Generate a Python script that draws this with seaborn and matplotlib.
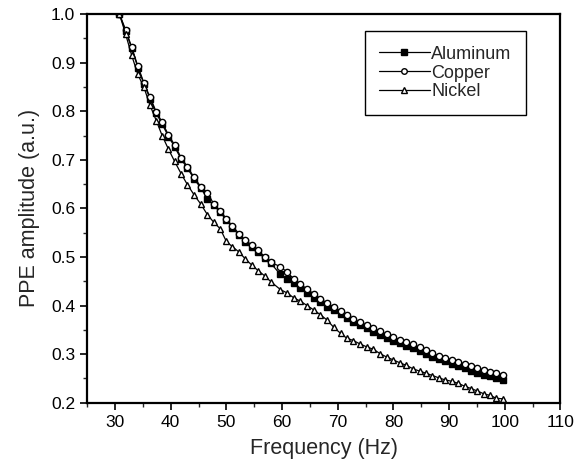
import matplotlib
matplotlib.use("Agg")
import matplotlib.pyplot as plt
from matplotlib.ticker import MultipleLocator
import seaborn as sns

freq = [30.8, 31.9, 33.0, 34.1, 35.2, 36.3, 37.4, 38.5, 39.6, 40.7,
        41.9, 43.0, 44.2, 45.4, 46.6, 47.7, 48.9, 50.0, 51.1, 52.3,
        53.4, 54.6, 55.7, 56.9, 58.0, 59.7, 60.9, 62.1, 63.3, 64.5,
        65.7, 66.9, 68.1, 69.3, 70.5, 71.6, 72.8, 74.0, 75.2, 76.4,
        77.6, 78.8, 80.0, 81.2, 82.3, 83.5, 84.7, 85.8, 87.0, 88.2,
        89.3, 90.5, 91.6, 92.8, 94.0, 95.1, 96.3, 97.4, 98.5, 99.7]

aluminum = [1.000, 0.965, 0.930, 0.890, 0.856, 0.826, 0.796, 0.773, 0.748, 0.727,
            0.701, 0.683, 0.661, 0.642, 0.620, 0.607, 0.592, 0.576, 0.560, 0.545,
            0.531, 0.521, 0.510, 0.497, 0.487, 0.464, 0.455, 0.446, 0.436, 0.426,
            0.416, 0.407, 0.398, 0.390, 0.382, 0.374, 0.366, 0.359, 0.353, 0.346,
            0.340, 0.333, 0.327, 0.322, 0.316, 0.312, 0.306, 0.300, 0.294, 0.289,
            0.285, 0.280, 0.276, 0.271, 0.266, 0.262, 0.258, 0.255, 0.251, 0.247]

copper = [1.000, 0.968, 0.932, 0.893, 0.858, 0.829, 0.799, 0.777, 0.751, 0.731,
          0.704, 0.686, 0.664, 0.645, 0.632, 0.610, 0.595, 0.579, 0.563, 0.548,
          0.534, 0.525, 0.514, 0.500, 0.489, 0.480, 0.469, 0.455, 0.444, 0.434,
          0.424, 0.414, 0.405, 0.397, 0.389, 0.381, 0.372, 0.366, 0.360, 0.354,
          0.347, 0.341, 0.335, 0.330, 0.324, 0.320, 0.314, 0.308, 0.302, 0.297,
          0.293, 0.288, 0.284, 0.280, 0.275, 0.271, 0.267, 0.264, 0.261, 0.258]

nickel = [1.000, 0.959, 0.915, 0.876, 0.849, 0.812, 0.781, 0.749, 0.722, 0.697,
          0.671, 0.649, 0.628, 0.609, 0.587, 0.572, 0.558, 0.532, 0.521, 0.510,
          0.496, 0.483, 0.472, 0.461, 0.449, 0.433, 0.426, 0.416, 0.409, 0.400,
          0.391, 0.381, 0.370, 0.355, 0.343, 0.333, 0.328, 0.321, 0.315, 0.310,
          0.301, 0.294, 0.288, 0.282, 0.277, 0.270, 0.265, 0.261, 0.256, 0.251,
          0.247, 0.244, 0.240, 0.234, 0.229, 0.224, 0.218, 0.215, 0.209, 0.208]

sns.set_style("ticks")
plt.rcParams["font.family"] = ["Liberation Sans", "DejaVu Sans"]

fig = plt.figure(figsize=(5.85, 4.71), dpi=100)
ax = fig.add_axes([0.149, 0.145, 0.809, 0.825])

common = dict(color="black", linewidth=0.9, markersize=4.5, markeredgewidth=1.0, ax=ax)
sns.lineplot(x=freq, y=aluminum, marker="s", markerfacecolor="black",
             markeredgecolor="black", label="Aluminum", **common)
sns.lineplot(x=freq, y=copper, marker="o", markerfacecolor="white",
             markeredgecolor="black", label="Copper", **common)
sns.lineplot(x=freq, y=nickel, marker="^", markerfacecolor="white",
             markeredgecolor="black", label="Nickel", **common)

ax.set_xlim(25, 110)
ax.set_ylim(0.2, 1.0)
ax.xaxis.set_major_locator(MultipleLocator(10))
ax.xaxis.set_minor_locator(MultipleLocator(5))
ax.yaxis.set_major_locator(MultipleLocator(0.1))
ax.yaxis.set_minor_locator(MultipleLocator(0.05))
ax.yaxis.set_major_formatter(plt.FormatStrFormatter("%.1f"))

for side in ax.spines.values():
    side.set_linewidth(1.6)
    side.set_color("black")
ax.tick_params(which="major", direction="out", length=5, width=1.2,
               labelsize=12.5, colors="black", top=False, right=False)
ax.tick_params(which="minor", direction="out", length=3, width=1.0,
               top=False, right=False)

ax.set_xlabel("Frequency (Hz)", fontsize=15.5, labelpad=6)
ax.set_ylabel("PPE amplitude (a.u.)", fontsize=15.5, labelpad=8)

leg = ax.legend(loc="upper right", bbox_to_anchor=(0.935, 0.965), fontsize=13,
                frameon=True, fancybox=False, edgecolor="black",
                handlelength=2.8, handletextpad=0.1, labelspacing=0.1,
                borderpad=0.8, borderaxespad=0.2, framealpha=1)
leg.get_frame().set_linewidth(1.0)
for h in leg.legend_handles:
    h.set_markersize(4)

fig.savefig("out.png", dpi=100)
